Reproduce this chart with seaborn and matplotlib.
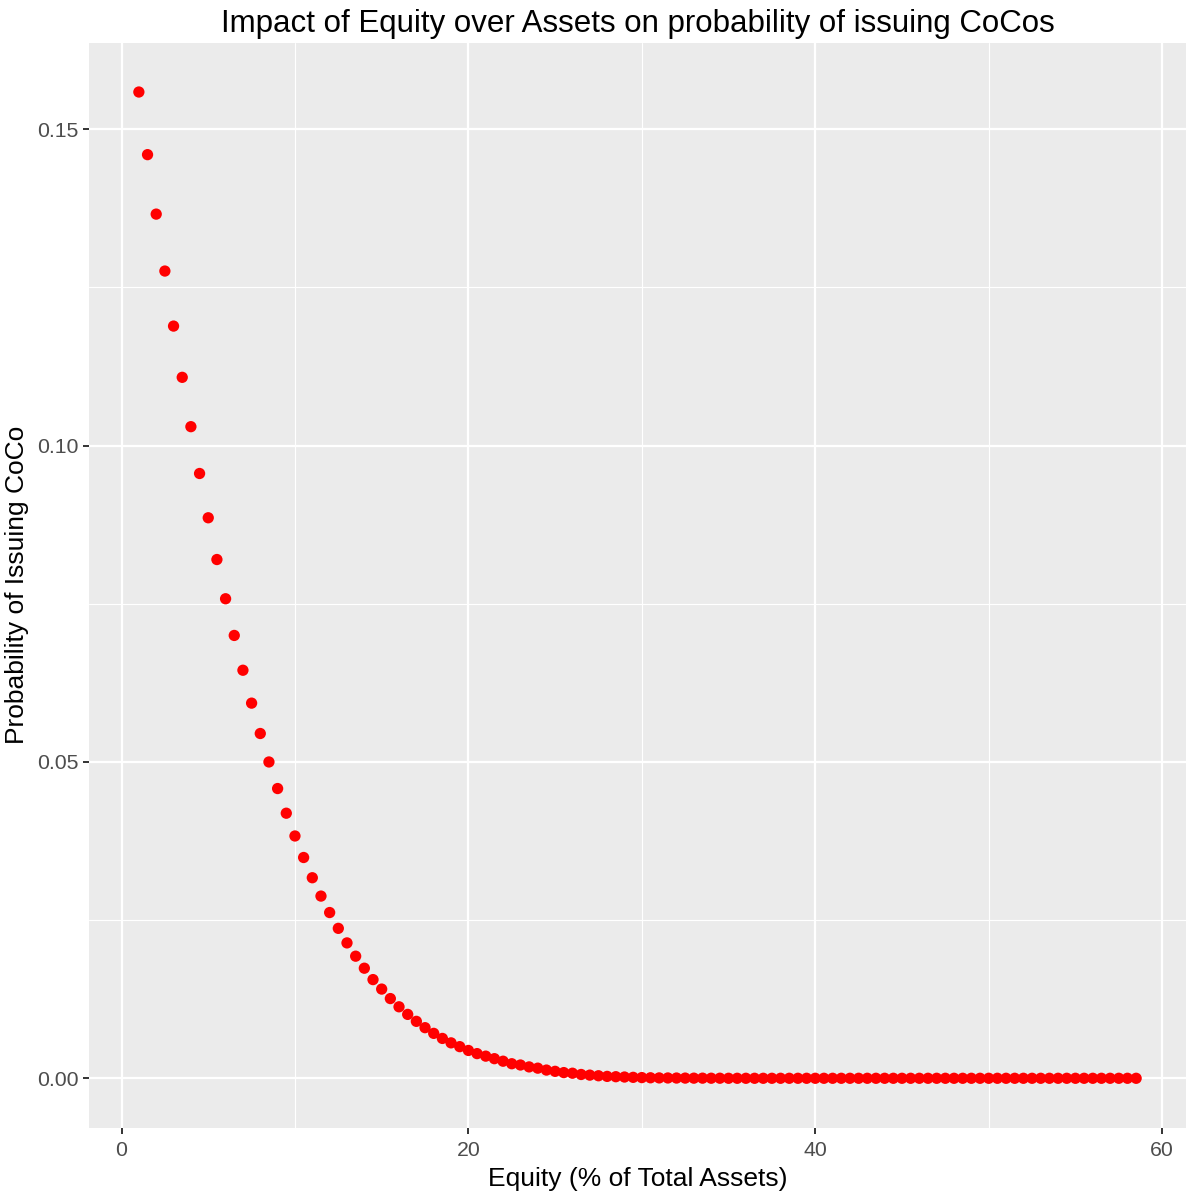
import matplotlib
matplotlib.use("Agg")
import matplotlib.pyplot as plt
from matplotlib.ticker import FixedLocator
import seaborn as sns
import pandas as pd

equity = [
    1.0, 1.5, 2.0, 2.5, 3.0, 3.5, 4.0, 4.5, 5.0, 5.5, 6.0, 6.5, 7.0, 7.5, 8.0, 8.5,
    9.0, 9.5, 10.0, 10.5, 11.0, 11.5, 12.0, 12.5, 13.0, 13.5, 14.0, 14.5, 15.0, 15.5,
    16.0, 16.5, 17.0, 17.5, 18.0, 18.5, 19.0, 19.5, 20.0, 20.5, 21.0, 21.5, 22.0, 22.5,
    23.0, 23.5, 24.0, 24.5, 25.0, 25.5, 26.0, 26.5, 27.0, 27.5, 28.0, 28.5, 29.0, 29.5,
    30.0, 30.5, 31.0, 31.5, 32.0, 32.5, 33.0, 33.5, 34.0, 34.5, 35.0, 35.5, 36.0, 36.5,
    37.0, 37.5, 38.0, 38.5, 39.0, 39.5, 40.0, 40.5, 41.0, 41.5, 42.0, 42.5, 43.0, 43.5,
    44.0, 44.5, 45.0, 45.5, 46.0, 46.5, 47.0, 47.5, 48.0, 48.5, 49.0, 49.5, 50.0, 50.5,
    51.0, 51.5, 52.0, 52.5, 53.0, 53.5, 54.0, 54.5, 55.0, 55.5, 56.0, 56.5, 57.0, 57.5,
    58.0, 58.5,
]

probability = [
    0.1559, 0.1460, 0.1366, 0.1276, 0.1189, 0.1108, 0.1030, 0.0956, 0.0886, 0.0820,
    0.0758, 0.0700, 0.0645, 0.0593, 0.0545, 0.0500, 0.0458, 0.0419, 0.0383, 0.0349,
    0.0317, 0.0288, 0.0262, 0.0237, 0.0214, 0.0193, 0.0174, 0.0156, 0.0141, 0.0126,
    0.0113, 0.0101, 0.0090, 0.0080, 0.0071, 0.0063, 0.0056, 0.0050, 0.0044, 0.0039,
    0.0035, 0.0031, 0.0027, 0.0023, 0.0021, 0.0018, 0.0016, 0.0013, 0.0011, 0.0009,
    0.0008, 0.0006, 0.0005, 0.0004, 0.0003, 0.00025, 0.0002, 0.00015, 0.00011, 0.00008,
    0.00006, 0.00005, 0.00004, 0.00003, 0.00002, 0.00002, 0.00001, 0.00001,
    0.0, 0.0, 0.0, 0.0, 0.0, 0.0, 0.0, 0.0, 0.0, 0.0, 0.0, 0.0,
    0.0, 0.0, 0.0, 0.0, 0.0, 0.0, 0.0, 0.0, 0.0, 0.0, 0.0, 0.0,
    0.0, 0.0, 0.0, 0.0, 0.0, 0.0, 0.0, 0.0, 0.0, 0.0, 0.0, 0.0,
    0.0, 0.0, 0.0, 0.0, 0.0, 0.0, 0.0, 0.0, 0.0, 0.0, 0.0, 0.0,
]

x_ticks = [0, 20, 40, 60]
x_tick_labels = ["0", "20", "40", "60"]
y_ticks = [0.00, 0.05, 0.10, 0.15]
y_tick_labels = ["0.00", "0.05", "0.10", "0.15"]

title = "Impact of Equity over Assets on probability of issuing CoCos"
x_label = "Equity (% of Total Assets)"
y_label = "Probability of Issuing CoCo"

df = pd.DataFrame({"equity": equity, "probability": probability})

sns.set_theme(style="darkgrid")
plt.rcParams["font.family"] = ["Liberation Sans", "DejaVu Sans"]

fig = plt.figure(figsize=(11.86, 11.92), dpi=100)
ax = fig.add_axes([89 / 1186, (1192 - 1127.6) / 1192, (1186 - 89) / 1186, (1127.6 - 42.7) / 1192])
ax.set_facecolor("#EBEBEB")

sns.scatterplot(data=df, x="equity", y="probability", color="#FF0000", s=66,
                linewidth=0, edgecolor="none", ax=ax, zorder=3)

xr = max(equity) - min(equity)
ax.set_xlim(min(equity) - 0.05 * xr, max(equity) + 0.05 * xr)
yr = max(probability) - min(probability)
ax.set_ylim(min(probability) - 0.05 * yr, max(probability) + 0.05 * yr)

ax.xaxis.set_major_locator(FixedLocator(x_ticks))
ax.set_xticklabels(x_tick_labels)
ax.yaxis.set_major_locator(FixedLocator(y_ticks))
ax.set_yticklabels(y_tick_labels)
ax.xaxis.set_minor_locator(FixedLocator([10, 30, 50]))
ax.yaxis.set_minor_locator(FixedLocator([0.025, 0.075, 0.125]))

ax.grid(which="major", color="white", linewidth=1.6)
ax.grid(which="minor", color="white", linewidth=0.8)
ax.set_axisbelow(True)
for sp in ax.spines.values():
    sp.set_visible(False)

ax.tick_params(axis="both", which="major", length=4.5, width=1.4, color="#333333",
               labelcolor="#4D4D4D", labelsize=15.3, bottom=True, left=True)
ax.tick_params(axis="x", which="major", pad=5)
ax.tick_params(axis="y", which="major", pad=3)
ax.tick_params(axis="both", which="minor", length=0)

ax.set_xlabel(x_label, fontsize=19, color="black", labelpad=5)
ax.set_ylabel(y_label, fontsize=19, color="black", labelpad=6)
ax.set_title(title, fontsize=22.5, color="black", pad=8)

fig.savefig("out.png", dpi=100)
